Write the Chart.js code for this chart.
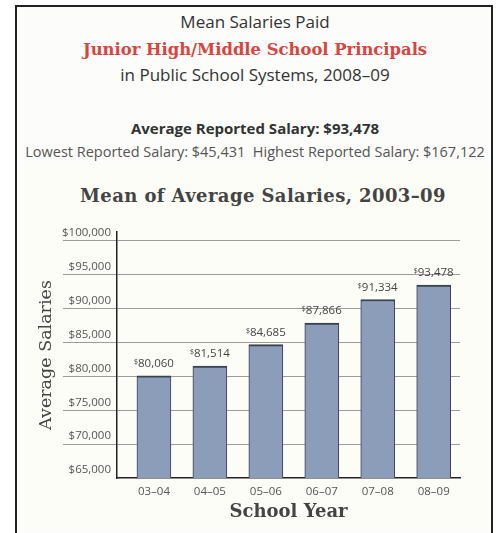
<!DOCTYPE html>
<html lang="en">
<head>
<meta charset="UTF-8">
<title>Mean Salaries Paid - Junior High/Middle School Principals</title>
<script src="https://cdn.jsdelivr.net/npm/chart.js"></script>
<style>
    body { margin: 0; background: #ffffff; }
    #page { position: relative; width: 499px; height: 533px; overflow: hidden; background: #ffffff; }
    #frame { position: absolute; left: 15px; top: 5px; width: 474px; height: 540px;
             border: 2px solid #222; background: #fcfcfa; }
    #panel { position: absolute; left: 22px; top: 168px; width: 466px; height: 360px; background: #fdfdf8; }
    .line { position: absolute; left: 0; width: 510px; text-align: center; white-space: nowrap;
            font-family: "Open Sans", sans-serif; color: #333; line-height: 22px; }
    #l1 { top: 11px; font-size: 17px; }
    #l2 { top: 39px; font-family: "DejaVu Serif", serif; font-weight: bold; font-size: 16.4px; color: #d8453f; }
    #l3 { top: 64px; font-size: 17px; }
    #l4 { top: 117px; font-size: 15px; font-weight: bold; }
    #l5 { top: 141px; font-size: 14.5px; color: #555; }
    #ctitle { position: absolute; left: 0; width: 526px; top: 185px; text-align: center; white-space: nowrap;
              font-family: "DejaVu Serif", serif; font-weight: bold; font-size: 18px; letter-spacing: 0.4px;
              color: #444; line-height: 22px; }
    #wrap { position: absolute; left: 20px; top: 168px; width: 468px; height: 360px; }
</style>
</head>
<body>
<div id="page">
    <div id="frame"></div>
    <div id="panel"></div>
    <div class="line" id="l1">Mean Salaries Paid</div>
    <div class="line" id="l2">Junior High/Middle School Principals</div>
    <div class="line" id="l3">in Public School Systems, 2008–09</div>
    <div class="line" id="l4">Average Reported Salary: $93,478</div>
    <div class="line" id="l5">Lowest Reported Salary: $45,431&nbsp;&nbsp;Highest Reported Salary: $167,122</div>
    <div id="ctitle">Mean of Average Salaries, 2003–09</div>
    <div id="wrap"><canvas id="grafico" width="468" height="360"></canvas></div>
</div>

<script>
    // dados
    const anos = ["03–04", "04–05", "05–06", "06–07", "07–08", "08–09"];
    const salarios = [80060, 81514, 84685, 87866, 91334, 93478];
    const ticksY = [65000, 70000, 75000, 80000, 85000, 90000, 95000, 100000];

    function dinheiro(v) {
        return v.toLocaleString("en-US");
    }

    // rotulos em cima das barras, com o $ pequeno
    const rotulos = {
        id: "rotulos",
        afterDatasetsDraw(chart) {
            const ctx = chart.ctx;
            const meta = chart.getDatasetMeta(0);
            ctx.save();
            ctx.fillStyle = "#444";
            ctx.textBaseline = "alphabetic";
            meta.data.forEach((barra, i) => {
                const num = dinheiro(salarios[i]);
                ctx.font = "11.5px 'Open Sans'";
                const wNum = ctx.measureText(num).width;
                ctx.font = "7px 'Open Sans'";
                const wSif = ctx.measureText("$").width;
                const x0 = barra.x - (wNum + wSif) / 2;
                const y0 = barra.y - 9;
                ctx.fillText("$", x0, y0 - 3);
                ctx.font = "11.5px 'Open Sans'";
                ctx.fillText(num, x0 + wSif, y0);
            });
            ctx.restore();
        }
    };

    new Chart(document.getElementById("grafico"), {
        type: "bar",
        data: {
            datasets: [{
                label: "Average Salaries",
                data: salarios.map((v, i) => ({ x: i, y: v })),
                backgroundColor: "#8b9db8",
                borderColor: "#3a4252",
                borderWidth: { top: 2, left: 1, right: 1, bottom: 0 },
                borderSkipped: false,
                barThickness: 34
            }]
        },
        options: {
            responsive: false,
            animation: false,
            layout: { padding: { top: 64, right: 28, left: 0, bottom: 0 } },
            plugins: {
                legend: { display: false },
                tooltip: { enabled: false }
            },
            scales: {
                x: {
                    type: "linear",
                    offset: false,
                    min: -0.66,
                    max: 5.47,
                    afterBuildTicks: s => { s.ticks = anos.map((a, i) => ({ value: i })); },
                    afterFit: s => { s.height = 50; },
                    grid: { display: false, drawTicks: false },
                    border: { display: true, color: "#222", width: 1.5 },
                    ticks: {
                        autoSkip: false,
                        maxRotation: 0,
                        padding: 7,
                        color: "#555",
                        font: { family: "'Open Sans'", size: 11.5 },
                        callback: v => anos[v]
                    },
                    title: {
                        display: true,
                        text: "School Year",
                        color: "#444",
                        font: { family: "'DejaVu Serif'", size: 18, weight: "bold" },
                        padding: { top: 0, bottom: 5 }
                    }
                },
                y: {
                    min: 65000,
                    max: 101300,
                    afterBuildTicks: s => { s.ticks = ticksY.map(v => ({ value: v })); },
                    afterFit: s => { s.width = 97; },
                    grid: {
                        color: c => (c.tick && c.tick.value === 65000) ? "rgba(0,0,0,0)" : "#9c9c9c",
                        lineWidth: 1,
                        drawTicks: true,
                        tickLength: 54
                    },
                    border: { display: true, color: "#222", width: 1.5 },
                    ticks: {
                        padding: -48,
                        labelOffset: -8,
                        color: "#555",
                        font: { family: "'Open Sans'", size: 11.5 },
                        callback: v => "$" + dinheiro(v)
                    },
                    title: {
                        display: true,
                        text: "Average Salaries",
                        color: "#444",
                        font: { family: "'DejaVu Serif'", size: 17.5 },
                        padding: { top: 16, bottom: 0 }
                    }
                }
            }
        },
        plugins: [rotulos]
    });
</script>
</body>
</html>
